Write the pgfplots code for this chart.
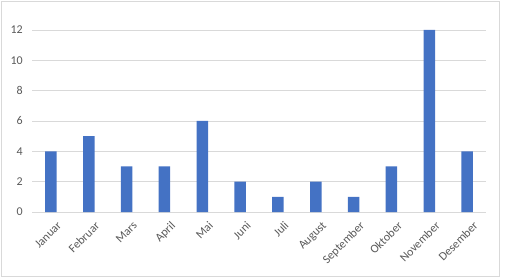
\documentclass[border=0pt]{standalone}
\usepackage{pgfplots}
\pgfplotsset{compat=1.18}
\usepackage{fontspec}
\setmainfont{Carlito}
\definecolor{barblue}{HTML}{4472C4}
\definecolor{gridgray}{HTML}{D9D9D9}
\definecolor{txtgray}{HTML}{595959}
\begin{document}
\begin{tikzpicture}
\path[use as bounding box] (0,0) rectangle (509bp,278bp);
\draw[gridgray, line width=0.8bp] (1bp,1.5bp) rectangle (499.5bp,277bp);
\begin{axis}[
  at={(32bp,66bp)}, anchor=south west,
  scale only axis, width=454bp, height=182bp,
  xmin=-0.5, xmax=11.5, ymin=0, ymax=12,
  ytick={0,2,...,12},
  xtick={0,...,11},
  xticklabels={Januar,Februar,Mars,April,Mai,Juni,Juli,August,September,Oktober,November,Desember},
  x tick label style={rotate=45, anchor=north east, inner sep=1bp, xshift=-1bp, yshift=-9bp},
  y tick label style={inner sep=0pt, xshift=-9bp},
  ticklabel style={font=\fontsize{12}{14}\selectfont, text=txtgray},
  /pgf/number format/assume math mode=true,
  major tick length=0pt,
  axis line style={draw=none},
  ymajorgrids, grid style={gridgray, line width=0.8bp},
  ybar, bar width=11.5bp,
  clip=false,
]
\addplot[fill=barblue, draw=none] coordinates {
(0,4) (1,5) (2,3) (3,3) (4,6) (5,2) (6,1) (7,2) (8,1) (9,3) (10,12) (11,4)};
\end{axis}
\end{tikzpicture}
\end{document}
